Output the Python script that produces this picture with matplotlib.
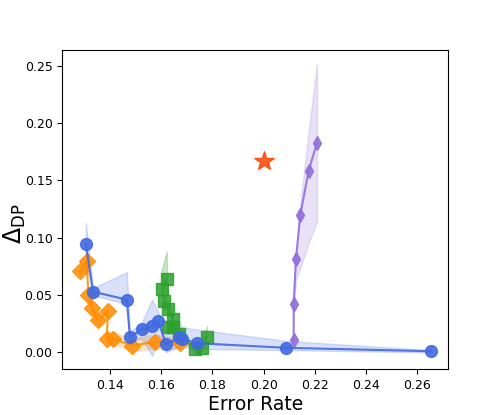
import numpy as np
import matplotlib
matplotlib.use("Agg")
import matplotlib.pyplot as plt

# blue circles
blue_x = [0.1306, 0.1334, 0.1466, 0.1478, 0.1524, 0.1565, 0.1589, 0.1619, 0.1670, 0.1680, 0.1739, 0.2088, 0.2653]
blue_y = [0.095, 0.053, 0.046, 0.0135, 0.020, 0.023, 0.027, 0.007, 0.013, 0.012, 0.008, 0.004, 0.001]
blue_lo = [0.080, 0.050, 0.042, 0.010, 0.012, -0.003, 0.015, 0.000, 0.005, 0.005, 0.003, 0.002, 0.000]
blue_hi = [0.113, 0.056, 0.070, 0.018, 0.026, 0.046, 0.035, 0.015, 0.025, 0.022, 0.020, 0.010, 0.002]

# orange diamonds
orange_x = [0.1283, 0.1309, 0.1316, 0.1329, 0.1354, 0.1393, 0.1387, 0.1412, 0.1485, 0.1576, 0.1674]
orange_y = [0.0708, 0.0795, 0.0505, 0.039, 0.028, 0.036, 0.012, 0.012, 0.006, 0.009, 0.008]
orange_lo = [0.066, 0.074, 0.045, 0.034, 0.022, 0.030, 0.007, 0.007, 0.000, 0.003, 0.003]
orange_hi = [0.075, 0.085, 0.056, 0.044, 0.034, 0.042, 0.018, 0.018, 0.013, 0.016, 0.013]

# green squares
green_x = [0.1622, 0.1602, 0.1611, 0.1628, 0.1648, 0.1628, 0.1648, 0.1670, 0.1733, 0.1759, 0.1778]
green_y = [0.064, 0.055, 0.0447, 0.0375, 0.0287, 0.0224, 0.022, 0.016, 0.003, 0.004, 0.0137]
green_lo = [0.045, 0.045, 0.040, 0.033, 0.025, 0.019, 0.019, 0.012, 0.001, 0.001, 0.008]
green_hi = [0.088, 0.072, 0.050, 0.042, 0.033, 0.026, 0.026, 0.020, 0.005, 0.007, 0.023]

# purple thin diamonds
purple_x = [0.2117, 0.2117, 0.2126, 0.2143, 0.2175, 0.2208]
purple_y = [0.0105, 0.042, 0.0816, 0.120, 0.158, 0.183]
purple_lo = [0.005, 0.035, 0.063, 0.074, 0.095, 0.114]
purple_hi = [0.016, 0.050, 0.088, 0.130, 0.192, 0.252]

# single star
star_x = [0.2002]
star_y = [0.167]

fig, ax = plt.subplots(figsize=(4.98, 4.15), dpi=100)

ax.fill_between(orange_x, orange_lo, orange_hi, color="darkorange", alpha=0.25, linewidth=0)
ax.plot(orange_x, orange_y, marker="D", color="darkorange", alpha=0.85, markersize=8, linewidth=1.5)

ax.fill_between(green_x, green_lo, green_hi, color="tab:green", alpha=0.25, linewidth=1)
ax.plot(green_x, green_y, marker="s", color="tab:green", alpha=0.85, markersize=8, linewidth=1.2)

ax.fill_between(blue_x, blue_lo, blue_hi, color="royalblue", alpha=0.2, linewidth=1)
ax.plot(blue_x, blue_y, marker="o", color="royalblue", alpha=0.9, markersize=8.5, linewidth=1.5)

ax.fill_between(purple_x, purple_lo, purple_hi, color="mediumpurple", alpha=0.2, linewidth=1)
ax.plot(purple_x, purple_y, marker="d", color="mediumpurple", alpha=0.9, markersize=7.5, linewidth=1.5)

ax.plot(star_x, star_y, marker="*", color="orangered", alpha=0.85, markersize=15, linestyle="none")

ax.set_xlim(0.1214, 0.272)
ax.set_ylim(-0.0148, 0.264)
ax.tick_params(labelsize=9)
ax.set_xlabel("Error Rate", fontsize=13.5, labelpad=2)
ax.set_ylabel(r"$\Delta_{\mathrm{DP}}$", fontsize=17)
ax.yaxis.set_label_coords(-0.09, 0.455)

fig.savefig("out.png", dpi=100)
